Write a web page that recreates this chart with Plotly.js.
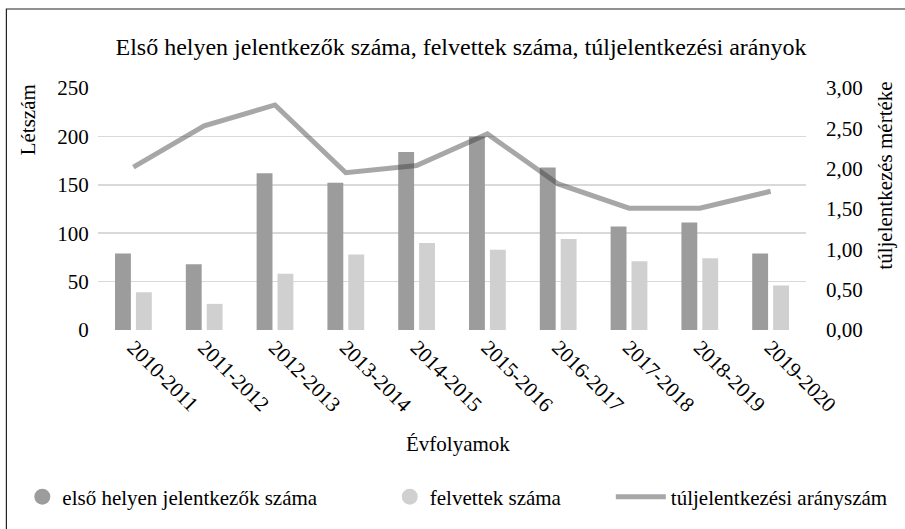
<!DOCTYPE html>
<html>
<head>
<meta charset="utf-8">
<script src="https://cdn.plot.ly/plotly-3.0.1.min.js"></script>
<style>
html, body { margin: 0; padding: 0; background: #fff; }
#chart { width: 905px; height: 529px; }
</style>
</head>
<body>
<div id="chart"></div>
<script>
const categories = ['2010-2011', '2011-2012', '2012-2013', '2013-2014', '2014-2015',
                    '2015-2016', '2016-2017', '2017-2018', '2018-2019', '2019-2020'];
const elsoHelyen = [79, 68, 162, 152, 184, 200, 168, 107, 111, 79];
const felvettek = [39, 27, 58, 78, 90, 83, 94, 71, 74, 46];
const tuljelentkezes = [2.02, 2.53, 2.79, 1.95, 2.04, 2.43, 1.81, 1.51, 1.51, 1.72];

const seriesNames = ['első helyen jelentkezők száma', 'felvettek száma', 'túljelentkezési arányszám'];
const chartTitle = 'Első helyen jelentkezők száma, felvettek száma, túljelentkezési arányok';
const xTitle = 'Évfolyamok';
const yTitle = 'Létszám';
const y2Title = 'túljelentkezés mértéke';

const FONT = 'Liberation Serif';
const DARK = '#9c9c9c';
const LIGHT = '#d0d0d0';
const LINE = 'rgba(60,60,60,0.45)';

const traces = [
  { type: 'bar', x: categories, y: elsoHelyen, name: seriesNames[0],
    marker: { color: DARK }, showlegend: false, hoverinfo: 'x+y' },
  { type: 'bar', x: categories, y: felvettek, name: seriesNames[1],
    marker: { color: LIGHT }, showlegend: false, hoverinfo: 'x+y' },
  { type: 'scatter', mode: 'lines', x: categories, y: tuljelentkezes, yaxis: 'y2',
    name: seriesNames[2], line: { color: LINE, width: 5 }, legend: 'legend3' },
  { type: 'scatter', mode: 'markers', x: [null], y: [null], name: seriesNames[0],
    marker: { color: DARK, size: 22, symbol: 'circle' }, legend: 'legend' },
  { type: 'scatter', mode: 'markers', x: [null], y: [null], name: seriesNames[1],
    marker: { color: LIGHT, size: 22, symbol: 'circle' }, legend: 'legend2' }
];

const L = 98, R = 96, T = 88, B = 199, W = 905, H = 529;
const pw = W - L - R, ph = H - T - B;
const px = v => (v - L) / pw;
const py = v => (H - B - v) / ph;

const legendBase = {
  orientation: 'h', yanchor: 'middle', xanchor: 'left',
  font: { family: FONT, size: 21, color: '#000' },
  bgcolor: 'rgba(0,0,0,0)', y: py(497)
};

const layout = {
  width: W, height: H,
  margin: { l: L, r: R, t: T, b: B, pad: 0 },
  paper_bgcolor: '#fff', plot_bgcolor: '#fff',
  separators: ', ',
  font: { family: FONT, size: 21, color: '#000' },
  title: { text: chartTitle, font: { family: FONT, size: 24, color: '#000' },
           x: 461 / W, xanchor: 'center', xref: 'container', y: 1 - 47 / H, yanchor: 'middle' },
  barmode: 'group', bargap: 0.41, bargroupgap: 0.24,
  xaxis: { type: 'category', tickangle: 45, showgrid: false, zeroline: false,
           showline: false, ticks: '', tickfont: { family: FONT, size: 21, color: '#000' } },
  yaxis: { range: [0, 250], dtick: 50, tick0: 0, showgrid: true, gridcolor: '#d9d9d9',
           gridwidth: 1.5, zeroline: false, showline: false,
           ticks: 'outside', ticklen: 4, tickcolor: 'rgba(0,0,0,0)',
           tickfont: { family: FONT, size: 21, color: '#000' } },
  yaxis2: { range: [0, 3], dtick: 0.5, tick0: 0, overlaying: 'y', side: 'right',
            showgrid: false, zeroline: false, showline: false, ticks: '',
            ticklabelstandoff: 19,
            tickformat: '.2f', tickfont: { family: FONT, size: 21, color: '#000' } },
  legend: Object.assign({}, legendBase, { x: px(22) }),
  legend2: Object.assign({}, legendBase, { x: px(391) }),
  legend3: Object.assign({}, legendBase, { x: px(613), itemwidth: 50 }),
  annotations: [
    { text: yTitle, xref: 'paper', yref: 'paper', x: px(28), y: py(120), textangle: -90,
      showarrow: false, xanchor: 'center', yanchor: 'middle',
      font: { family: FONT, size: 21, color: '#000' } },
    { text: y2Title, xref: 'paper', yref: 'paper', x: px(888), y: py(176), textangle: -90,
      showarrow: false, xanchor: 'center', yanchor: 'middle',
      font: { family: FONT, size: 21, color: '#000' } },
    { text: xTitle, xref: 'paper', yref: 'paper', x: px(460), y: py(444),
      showarrow: false, xanchor: 'center', yanchor: 'middle',
      font: { family: FONT, size: 21, color: '#000' } }
  ],
  shapes: [
    { type: 'rect', xref: 'paper', yref: 'paper', x0: px(6), x1: px(1200), y0: py(1000), y1: py(9),
      line: { color: '#222', width: 1.2 }, fillcolor: 'rgba(0,0,0,0)', layer: 'above' }
  ]
};

Plotly.newPlot('chart', traces, layout, { displayModeBar: false, staticPlot: true });
</script>
</body>
</html>
